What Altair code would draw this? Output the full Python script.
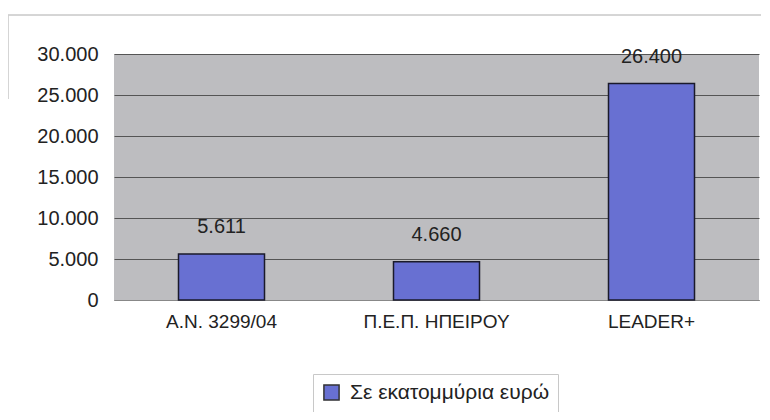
import altair as alt
import pandas as pd

categories = ["A.N. 3299/04", "Π.Ε.Π. ΗΠΕΙΡΟΥ", "LEADER+"]
values = [5611, 4660, 26400]
series_name = "Σε εκατομμύρια ευρώ"
y_ticks = [0, 5000, 10000, 15000, 20000, 25000, 30000]

df = pd.DataFrame({
    "cat": categories,
    "val": values,
    "label": [f"{v:,}".replace(",", ".") for v in values],
    "series": [series_name] * len(values),
})

FONT = "Liberation Sans"
W, H = 645, 246

x = alt.X("cat:N", sort=categories, title=None,
          scale=alt.Scale(paddingInner=0.6, paddingOuter=0.3),
          axis=alt.Axis(labelAngle=0, labelFontSize=19, labelColor="#222",
                        labelFont=FONT, labelPadding=12, ticks=False,
                        domain=True, domainColor="#888", domainWidth=1))
y = alt.Y("val:Q", title=None,
          scale=alt.Scale(domain=[0, 30000], nice=False),
          axis=alt.Axis(values=y_ticks, labelFontSize=20, labelColor="#222",
                        labelFont=FONT, labelPadding=16, ticks=False, domain=False,
                        grid=True, gridColor="#555", gridWidth=1,
                        labelExpr="replace(format(datum.value, ','), /,/g, '.')"))

bars = alt.Chart(df).mark_bar(stroke="#1a1a2a", strokeWidth=1.5).encode(
    x=x, y=y,
    color=alt.Color("series:N", title=None,
                    scale=alt.Scale(range=["#6870d2"]),
                    legend=alt.Legend(orient="none", legendX=199, legendY=320,
                                      direction="horizontal",
                                      symbolType="square", symbolSize=230,
                                      symbolStrokeColor="#333", symbolStrokeWidth=1.5,
                                      labelFontSize=21, labelFont=FONT, labelColor="#222",
                                      labelLimit=400,
                                      strokeColor="#c8c8c8", fillColor="white",
                                      padding=8, labelOffset=8)),
)

labels = alt.Chart(df).mark_text(baseline="middle", dy=-27, fontSize=20,
                                 font=FONT, color="#222").encode(
    x=alt.X("cat:N", sort=categories), y="val:Q", text="label:N")

frame_top = alt.Chart(df).mark_rule(color="#d0d0d0", strokeWidth=1).encode(
    x=alt.value(-106), x2=alt.value(648), y=alt.value(-39))
frame_left = alt.Chart(df).mark_rule(color="#d0d0d0", strokeWidth=1).encode(
    x=alt.value(-106), y=alt.value(-39), y2=alt.value(45))

chart = alt.layer(frame_top, frame_left, bars, labels).properties(
    width=W, height=H,
    background="white",
    autosize=alt.AutoSizeParams(type="none"),
    padding={"left": 106, "top": 46, "right": 2, "bottom": 112},
).configure_view(fill="#bdbdc0", strokeWidth=0)

chart.save("out.html", embed_options={"renderer": "svg", "actions": False})
